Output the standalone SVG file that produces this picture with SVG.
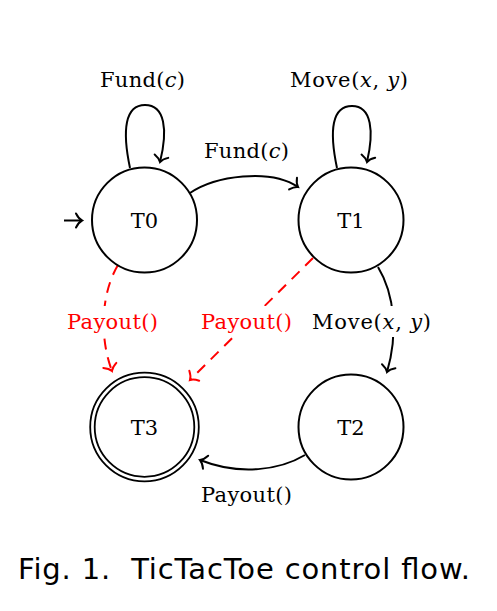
<svg xmlns="http://www.w3.org/2000/svg" width="497" height="611" viewBox="0 0 497 611">
<style>
.node{fill:#fff;stroke:#000;stroke-width:2}
.acc{fill:none;stroke:#000;stroke-width:1.8}
.lbl{font-family:"DejaVu Serif","Liberation Serif",serif;font-size:21px;fill:#000}
.red{fill:#f00}
.it{font-style:italic}
.edge{fill:none;stroke:#000;stroke-width:2}
.dash{fill:none;stroke:#f00;stroke-width:2;stroke-dasharray:11 8}
.bg{fill:#fff}
.cap{font-family:"DejaVu Sans","Liberation Sans",sans-serif;font-size:29px;fill:#000}
</style>
<defs>
<marker id="ah" markerUnits="userSpaceOnUse" viewBox="-10 -10 20 20" refX="0" refY="0" markerWidth="20" markerHeight="20" orient="auto" overflow="visible">
<path d="M -6 -7 C -4 -3 -1.5 -0.8 0 0 C -1.5 0.8 -4 3 -6 7" fill="none" stroke="#000" stroke-width="2" stroke-linecap="round" stroke-dasharray="none"/>
</marker>
<marker id="ahr" markerUnits="userSpaceOnUse" viewBox="-10 -10 20 20" refX="0" refY="0" markerWidth="20" markerHeight="20" orient="auto" overflow="visible">
<path d="M -6 -7 C -4 -3 -1.5 -0.8 0 0 C -1.5 0.8 -4 3 -6 7" fill="none" stroke="#f00" stroke-width="2" stroke-linecap="round" stroke-dasharray="none"/>
</marker>
</defs>
<rect width="497" height="611" fill="#fff"/>
<g id="connectors">
<path class="edge" d="M 64 220.5 L 82 220.5" marker-end="url(#ah)"/>
<path class="edge" d="M 130 168 C 122 130 125 105 145 105 C 165 105 168 130 160 162" marker-end="url(#ah)"/>
<path class="edge" d="M 337 168 C 329 130 332 106 352 106 C 372 106 374 132 367 162" marker-end="url(#ah)"/>
<path class="edge" d="M 190 193 C 215 176 270 168 298 187" marker-end="url(#ah)"/>
<path class="edge" d="M 378 267 C 395 295 398 335 387 372" marker-end="url(#ah)"/>
<path class="edge" d="M 305 455 C 280 470 240 476 200 460" marker-end="url(#ah)"/>
<path class="dash" d="M 118 265 C 100 295 100 340 112 371" marker-end="url(#ahr)"/>
<path class="dash" d="M 313 258 L 190 380" marker-end="url(#ahr)"/>
<text class="lbl" x="100" y="87" textLength="85" lengthAdjust="spacing">Fund(<tspan class="it">c</tspan>)</text>
<text class="lbl" x="204" y="158" textLength="85" lengthAdjust="spacing">Fund(<tspan class="it">c</tspan>)</text>
<text class="lbl" x="290" y="87" textLength="118" lengthAdjust="spacing">Move(<tspan class="it">x</tspan>, <tspan class="it">y</tspan>)</text>
<rect class="bg" x="64" y="306" width="97" height="31"/>
<text class="lbl red" x="67" y="329" textLength="91" lengthAdjust="spacing">Payout()</text>
<rect class="bg" x="198" y="306" width="97" height="31"/>
<text class="lbl red" x="201" y="329" textLength="91" lengthAdjust="spacing">Payout()</text>
<rect class="bg" x="309" y="306" width="125" height="31"/>
<text class="lbl" x="312" y="329" textLength="119" lengthAdjust="spacing">Move(<tspan class="it">x</tspan>, <tspan class="it">y</tspan>)</text>
<text class="lbl" x="201" y="502" textLength="91" lengthAdjust="spacing">Payout()</text>
</g>
<g id="T0">
<circle class="node" cx="144.5" cy="220" r="52.5"/>
<text class="lbl" x="144.5" y="228" text-anchor="middle">T0</text>
</g>
<g id="T1">
<circle class="node" cx="351" cy="220" r="52.5"/>
<text class="lbl" x="351" y="228" text-anchor="middle">T1</text>
</g>
<g id="T2">
<circle class="node" cx="351" cy="427" r="52.5"/>
<text class="lbl" x="351" y="435" text-anchor="middle">T2</text>
</g>
<g id="T3">
<circle class="node" cx="144.5" cy="427" r="54.3" style="stroke-width:1.8"/>
<circle class="acc" cx="144.5" cy="427" r="49.8"/>
<text class="lbl" x="144.5" y="435" text-anchor="middle">T3</text>
</g>
<text class="cap" x="18" y="579" textLength="452" lengthAdjust="spacing" xml:space="preserve">Fig. 1.  TicTacToe control flow.</text>
</svg>
